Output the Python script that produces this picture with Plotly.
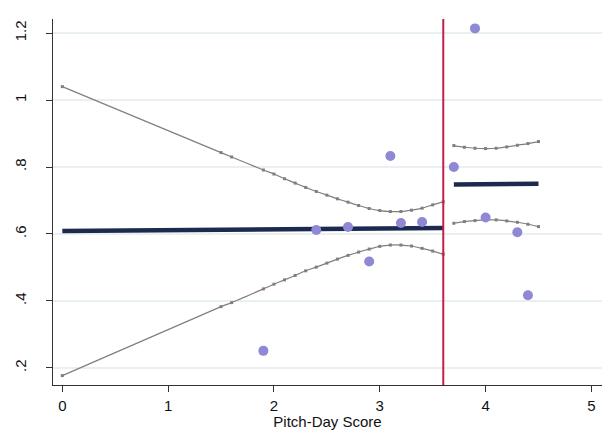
import plotly.graph_objects as go

# Binned means of the outcome by pitch-day score
bin_x = [1.9, 2.4, 2.7, 2.9, 3.1, 3.2, 3.4, 3.7, 3.9, 4.0, 4.3, 4.4]
bin_y = [0.251, 0.612, 0.621, 0.518, 0.833, 0.633, 0.636, 0.800, 1.214, 0.649, 0.605, 0.417]

cutoff = 3.6

# Left of cutoff: linear fit with 95% CI
left_x = [0.0, 1.5, 1.6, 1.9, 2.0, 2.1, 2.2, 2.3, 2.4, 2.5, 2.6, 2.7, 2.8, 2.9,
          3.0, 3.1, 3.2, 3.3, 3.4, 3.5, 3.6]
left_hi = [1.040, 0.843, 0.830, 0.791, 0.779, 0.765, 0.752, 0.739, 0.727, 0.716,
           0.705, 0.695, 0.685, 0.676, 0.670, 0.667, 0.667, 0.671, 0.677, 0.687, 0.696]
left_lo = [0.177, 0.383, 0.395, 0.436, 0.450, 0.463, 0.476, 0.490, 0.501, 0.513,
           0.525, 0.536, 0.546, 0.555, 0.563, 0.567, 0.567, 0.564, 0.557, 0.549, 0.540]
left_fit = [0.609, 0.613, 0.613, 0.614, 0.614, 0.614, 0.614, 0.614, 0.614, 0.615,
            0.615, 0.615, 0.616, 0.616, 0.616, 0.617, 0.617, 0.617, 0.617, 0.618, 0.618]

# Right of cutoff: linear fit with 95% CI
right_x = [3.7, 3.8, 3.9, 4.0, 4.1, 4.2, 4.3, 4.4, 4.5]
right_hi = [0.864, 0.859, 0.856, 0.855, 0.856, 0.860, 0.865, 0.870, 0.876]
right_lo = [0.632, 0.637, 0.640, 0.642, 0.642, 0.639, 0.635, 0.629, 0.622]
right_fit = [0.748, 0.748, 0.748, 0.749, 0.749, 0.749, 0.750, 0.750, 0.750]

x_ticks = [0, 1, 2, 3, 4, 5]
y_ticks = [0.2, 0.4, 0.6, 0.8, 1.0, 1.2]
y_tick_text = [".2", ".4", ".6", ".8", "1", "1.2"]

CI_COLOR = "#7f7f7f"
FIT_COLOR = "#1b2a4e"
DOT_COLOR = "#8f88d4"
CUT_COLOR = "#c41f4a"
FONT = "Liberation Sans, Arial, sans-serif"

fig = go.Figure()

for xs, ys in [(left_x, left_hi), (left_x, left_lo), (right_x, right_hi), (right_x, right_lo)]:
    fig.add_trace(go.Scatter(
        x=xs, y=ys, mode="lines+markers",
        line=dict(color=CI_COLOR, width=1.2, shape="spline", smoothing=0.6),
        marker=dict(symbol="square", size=3, color=CI_COLOR),
        showlegend=False, hoverinfo="skip"))

for xs, ys in [(left_x, left_fit), (right_x, right_fit)]:
    fig.add_trace(go.Scatter(
        x=xs, y=ys, mode="lines",
        line=dict(color=FIT_COLOR, width=4.5),
        showlegend=False))

fig.add_trace(go.Scatter(
    x=bin_x, y=bin_y, mode="markers",
    marker=dict(color=DOT_COLOR, size=10, line=dict(width=0)),
    showlegend=False))

fig.add_shape(type="line", x0=cutoff, x1=cutoff, xref="x", y0=0, y1=1, yref="paper",
              line=dict(color=CUT_COLOR, width=2))

fig.update_layout(
    width=604, height=430,
    margin=dict(l=53, r=2, t=19, b=45),
    paper_bgcolor="white", plot_bgcolor="white",
    font=dict(family=FONT, size=15, color="#111111"),
    xaxis=dict(
        range=[-0.088, 5.10], tickvals=x_ticks,
        showgrid=False, zeroline=False,
        showline=True, linecolor="#333333", linewidth=1.3,
        ticks="outside", ticklen=6, tickcolor="#333333", tickwidth=1.2,
        ticklabelstandoff=1,
        title=dict(text="Pitch-Day Score", standoff=0, font=dict(size=15)),
    ),
    yaxis=dict(
        range=[0.149, 1.242], tickvals=y_ticks, ticktext=y_tick_text,
        tickangle=-90, ticklabelstandoff=14,
        showgrid=True, gridcolor="#e9f0f2", gridwidth=1.5,
        zeroline=False,
        showline=True, linecolor="#333333", linewidth=1.3,
        ticks="outside", ticklen=6, tickcolor="#333333", tickwidth=1.2,
    ),
)

fig.write_html("out.html")
